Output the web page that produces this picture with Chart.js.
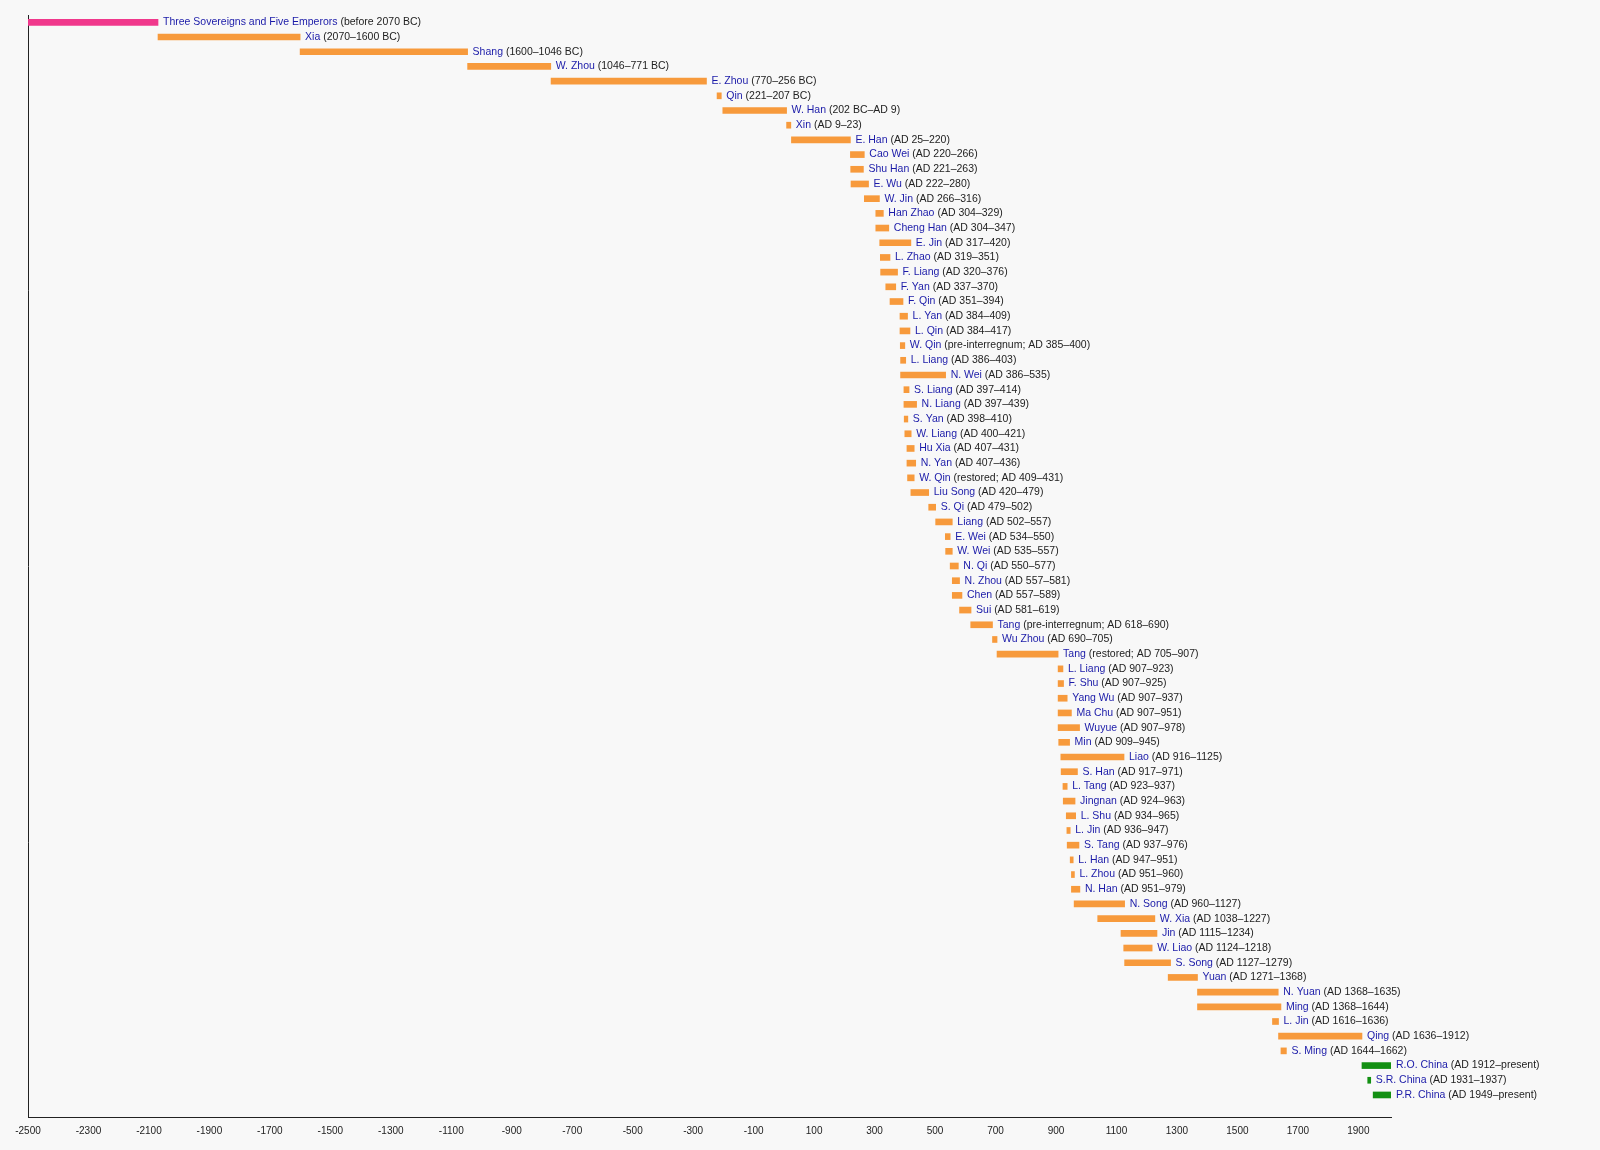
<!DOCTYPE html>
<html>
<head>
<meta charset="utf-8">
<script src="https://cdn.jsdelivr.net/npm/chart.js"></script>
<style>
  body { margin: 0; padding: 0; background: #f8f8f8; }
  #wrap { width: 1600px; height: 1150px; }
</style>
</head>
<body>
<div id="wrap"><canvas id="myChart"></canvas></div>
<script>
const PRESENT = 2008;

const names = ["Three Sovereigns and Five Emperors", "Xia", "Shang", "W. Zhou", "E. Zhou", "Qin", "W. Han", "Xin", "E. Han",
  "Cao Wei", "Shu Han", "E. Wu", "W. Jin", "Han Zhao", "Cheng Han", "E. Jin", "L. Zhao", "F. Liang", "F. Yan", "F. Qin",
  "L. Yan", "L. Qin", "W. Qin", "L. Liang", "N. Wei", "S. Liang", "N. Liang", "S. Yan", "W. Liang", "Hu Xia", "N. Yan",
  "W. Qin", "Liu Song", "S. Qi", "Liang", "E. Wei", "W. Wei", "N. Qi", "N. Zhou", "Chen", "Sui", "Tang", "Wu Zhou", "Tang",
  "L. Liang", "F. Shu", "Yang Wu", "Ma Chu", "Wuyue", "Min", "Liao", "S. Han", "L. Tang", "Jingnan", "L. Shu", "L. Jin",
  "S. Tang", "L. Han", "L. Zhou", "N. Han", "N. Song", "W. Xia", "Jin", "W. Liao", "S. Song", "Yuan", "N. Yuan", "Ming",
  "L. Jin", "Qing", "S. Ming", "R.O. China", "S.R. China", "P.R. China"];

const starts = [-2500, -2070, -1600, -1046, -770, -221, -202, 9, 25,
  220, 221, 222, 266, 304, 304, 317, 319, 320, 337, 351,
  384, 384, 385, 386, 386, 397, 397, 398, 400, 407, 407,
  409, 420, 479, 502, 534, 535, 550, 557, 557, 581, 618, 690, 705,
  907, 907, 907, 907, 907, 909, 916, 917, 923, 924, 934, 936,
  937, 947, 951, 951, 960, 1038, 1115, 1124, 1127, 1271, 1368, 1368,
  1616, 1636, 1644, 1912, 1931, 1949];

const ends = [-2070, -1600, -1046, -771, -256, -207, 9, 23, 220,
  266, 263, 280, 316, 329, 347, 420, 351, 376, 370, 394,
  409, 417, 400, 403, 535, 414, 439, 410, 421, 431, 436,
  431, 479, 502, 557, 550, 557, 577, 581, 589, 619, 690, 705, 907,
  923, 925, 937, 951, 978, 945, 1125, 971, 937, 963, 965, 947,
  976, 951, 960, 979, 1127, 1227, 1234, 1218, 1279, 1368, 1635, 1644,
  1636, 1912, 1662, PRESENT, 1937, PRESENT];

const notes = ["(before 2070 BC)", "(2070\u20131600 BC)", "(1600\u20131046 BC)", "(1046\u2013771 BC)", "(770\u2013256 BC)",
  "(221\u2013207 BC)", "(202 BC\u2013AD 9)", "(AD 9\u201323)", "(AD 25\u2013220)",
  "(AD 220\u2013266)", "(AD 221\u2013263)", "(AD 222\u2013280)", "(AD 266\u2013316)", "(AD 304\u2013329)", "(AD 304\u2013347)",
  "(AD 317\u2013420)", "(AD 319\u2013351)", "(AD 320\u2013376)", "(AD 337\u2013370)", "(AD 351\u2013394)",
  "(AD 384\u2013409)", "(AD 384\u2013417)", "(pre-interregnum; AD 385\u2013400)", "(AD 386\u2013403)", "(AD 386\u2013535)",
  "(AD 397\u2013414)", "(AD 397\u2013439)", "(AD 398\u2013410)", "(AD 400\u2013421)", "(AD 407\u2013431)", "(AD 407\u2013436)",
  "(restored; AD 409\u2013431)", "(AD 420\u2013479)", "(AD 479\u2013502)", "(AD 502\u2013557)", "(AD 534\u2013550)",
  "(AD 535\u2013557)", "(AD 550\u2013577)", "(AD 557\u2013581)", "(AD 557\u2013589)", "(AD 581\u2013619)",
  "(pre-interregnum; AD 618\u2013690)", "(AD 690\u2013705)", "(restored; AD 705\u2013907)",
  "(AD 907\u2013923)", "(AD 907\u2013925)", "(AD 907\u2013937)", "(AD 907\u2013951)", "(AD 907\u2013978)", "(AD 909\u2013945)",
  "(AD 916\u20131125)", "(AD 917\u2013971)", "(AD 923\u2013937)", "(AD 924\u2013963)", "(AD 934\u2013965)", "(AD 936\u2013947)",
  "(AD 937\u2013976)", "(AD 947\u2013951)", "(AD 951\u2013960)", "(AD 951\u2013979)", "(AD 960\u20131127)", "(AD 1038\u20131227)",
  "(AD 1115\u20131234)", "(AD 1124\u20131218)", "(AD 1127\u20131279)", "(AD 1271\u20131368)", "(AD 1368\u20131635)",
  "(AD 1368\u20131644)", "(AD 1616\u20131636)", "(AD 1636\u20131912)", "(AD 1644\u20131662)", "(AD 1912\u2013present)",
  "(AD 1931\u20131937)", "(AD 1949\u2013present)"];

const xTicks = [-2500, -2300, -2100, -1900, -1700, -1500, -1300, -1100, -900, -700, -500, -300, -100,
  100, 300, 500, 700, 900, 1100, 1300, 1500, 1700, 1900];

function colorFor(i) {
  if (i === 0) return "#f0388c";
  if (starts[i] >= 1912) return "#139013";
  return "#f79a3c";
}

// one category per row, plus an empty one to leave room above the x axis
const rowLabels = names.map((n, i) => String(i)).concat([""]);
const points = names.map((n, i) => ({ y: String(i), x: [starts[i], ends[i]] }));

const labelPlugin = {
  id: "labels",
  afterDatasetsDraw(chart) {
    const ctx = chart.ctx;
    const xs = chart.scales.x, ys = chart.scales.y;
    ctx.save();
    ctx.font = "10.5px 'Liberation Sans', Arial, sans-serif";
    ctx.textBaseline = "middle";
    names.forEach((n, i) => {
      const x = Math.max(xs.getPixelForValue(ends[i]), xs.getPixelForValue(starts[i]) + 3) + 5;
      const y = ys.getPixelForValue(i);
      ctx.fillStyle = "#1a1aa8";
      ctx.fillText(n, x, y);
      const w = ctx.measureText(n + " ").width;
      ctx.fillStyle = "#222";
      ctx.fillText(notes[i], x + w, y);
    });
    ctx.restore();
  }
};

new Chart(document.getElementById("myChart"), {
  type: "bar",
  data: {
    labels: rowLabels,
    datasets: [{
      data: points,
      backgroundColor: names.map((n, i) => colorFor(i)),
      barThickness: 6,
      minBarLength: 3,
      borderSkipped: false
    }]
  },
  options: {
    indexAxis: "y",
    responsive: true,
    maintainAspectRatio: false,
    animation: false,
    layout: { padding: { left: 20, right: 209, top: 15, bottom: 10 } },
    plugins: { legend: { display: false }, tooltip: { enabled: false } },
    scales: {
      x: {
        type: "linear",
        min: -2500,
        max: PRESENT,
        afterBuildTicks(axis) { axis.ticks = xTicks.map(v => ({ value: v })); },
        grid: { display: false, drawTicks: true, tickLength: 5, color: "#222" },
        border: { display: true, color: "#222", width: 1 },
        ticks: {
          color: "#222",
          font: { size: 10, family: "'Liberation Sans', Arial, sans-serif" },
          maxRotation: 0, autoSkip: false, padding: 3,
          callback: v => String(v)
        }
      },
      y: {
        type: "category",
        offset: true,
        grid: { display: false },
        border: { display: true, color: "#222", width: 1 },
        ticks: { display: false }
      }
    }
  },
  plugins: [labelPlugin]
});
</script>
</body>
</html>
